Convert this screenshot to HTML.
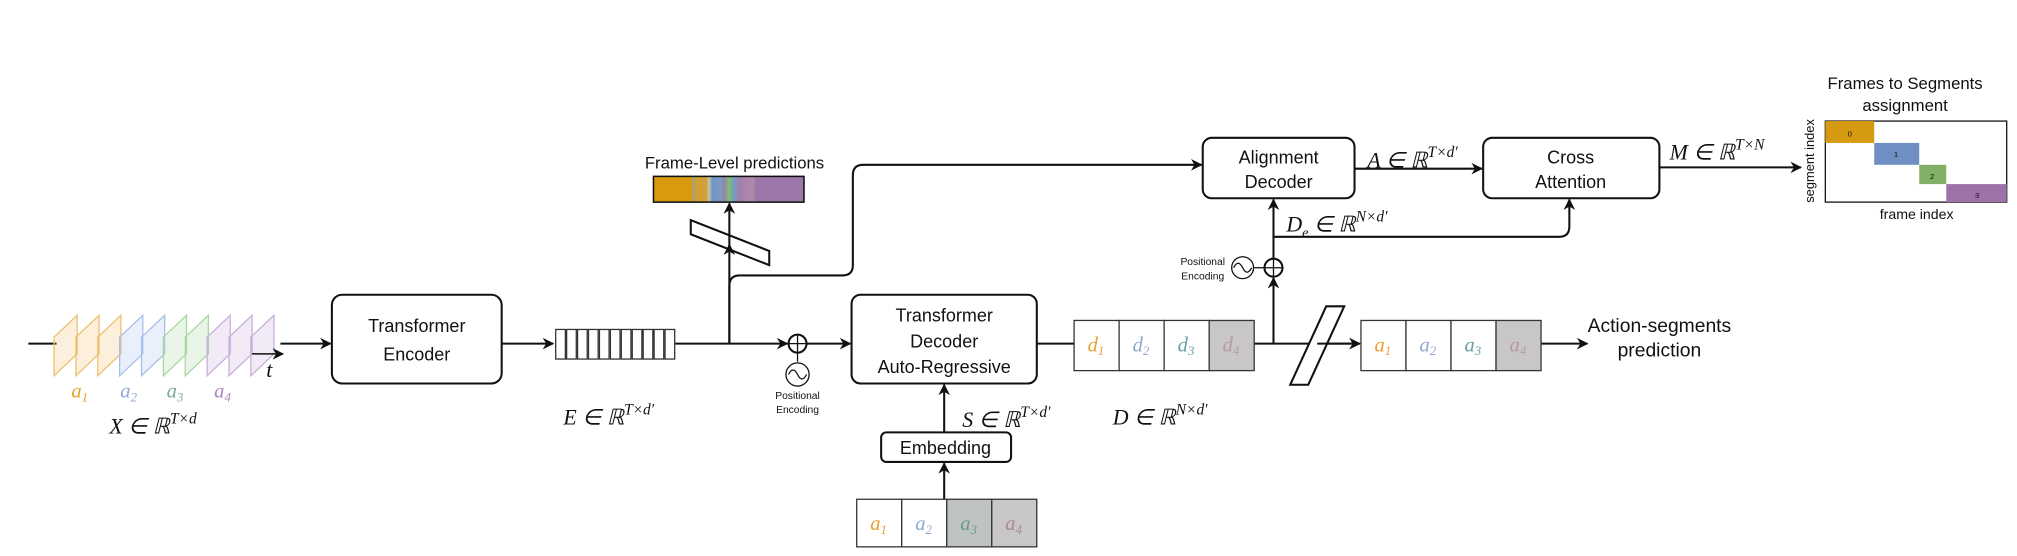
<!DOCTYPE html>
<html><head><meta charset="utf-8"><style>
html,body{margin:0;padding:0;background:#fff;}
svg{display:block}
.s{font-family:"Liberation Sans",sans-serif;fill:#111;}
.m{font-family:"Liberation Serif",serif;font-style:italic;fill:#111;}
</style></head><body>
<svg width="2017" height="556" viewBox="0 0 1568 432" xmlns="http://www.w3.org/2000/svg">
<defs>
<marker id="ar" viewBox="0 0 10 10" refX="9" refY="5" markerWidth="9" markerHeight="9" orient="auto-start-reverse" markerUnits="userSpaceOnUse"><path d="M0,0 L10,5 L0,10 L3,5 z" fill="#111"/></marker>
<linearGradient id="fg" x1="0" x2="1" y1="0" y2="0">
<stop offset="0" stop-color="#d99a10"/><stop offset="0.26" stop-color="#d99a10"/>
<stop offset="0.26" stop-color="#8fa0b8"/><stop offset="0.28" stop-color="#cfa030"/>
<stop offset="0.35" stop-color="#d0a040"/><stop offset="0.37" stop-color="#c8c8a0"/>
<stop offset="0.39" stop-color="#6f96c8"/><stop offset="0.45" stop-color="#7a9ac0"/>
<stop offset="0.47" stop-color="#9a80b0"/><stop offset="0.5" stop-color="#7fbf6a"/>
<stop offset="0.53" stop-color="#70a0c0"/><stop offset="0.57" stop-color="#a080b0"/>
<stop offset="0.66" stop-color="#b08aa8"/><stop offset="0.68" stop-color="#9c78aa"/>
<stop offset="1" stop-color="#9c78aa"/></linearGradient>
</defs>
<g fill="none" stroke="#111" stroke-width="1.6">
<line x1="22" y1="267" x2="44" y2="267"/>
</g>
<g stroke-width="1" fill-opacity="0.25">
<polygon points="42,292 42,262 60,245 60,275" fill="#f5c070" stroke="#eec070"/>
<polygon points="59,292 59,262 77,245 77,275" fill="#f5c070" stroke="#eec070"/>
<polygon points="76,292 76,262 94,245 94,275" fill="#f5c070" stroke="#eec070"/>
<polygon points="93,292 93,262 111,245 111,275" fill="#a8c4ee" stroke="#a8c0e8"/>
<polygon points="110,292 110,262 128,245 128,275" fill="#a8c4ee" stroke="#a8c0e8"/>
<polygon points="127,292 127,262 145,245 145,275" fill="#a8dca0" stroke="#a8d8a0"/>
<polygon points="144,292 144,262 162,245 162,275" fill="#a8dca0" stroke="#a8d8a0"/>
<polygon points="161,292 161,262 179,245 179,275" fill="#cdb0e0" stroke="#c8b0dc"/>
<polygon points="178,292 178,262 196,245 196,275" fill="#cdb0e0" stroke="#c8b0dc"/>
<polygon points="195,292 195,262 213,245 213,275" fill="#cdb0e0" stroke="#c8b0dc"/>
</g>
<g fill="none" stroke="#111" stroke-width="1.6">
<line x1="196" y1="275" x2="220" y2="275" stroke-width="1.2" marker-end="url(#ar)"/>
<line x1="218" y1="267" x2="257" y2="267" marker-end="url(#ar)"/>
<rect x="258" y="229" width="132" height="69" rx="8"/>
<line x1="390" y1="267" x2="430" y2="267" marker-end="url(#ar)"/>
</g>
<g fill="none" stroke="#333" stroke-width="1">
<rect x="432" y="256" width="7.5" height="23"/><rect x="440.5" y="256" width="7.5" height="23"/>
<rect x="449" y="256" width="7.5" height="23"/><rect x="457.5" y="256" width="7.5" height="23"/>
<rect x="466" y="256" width="7.5" height="23"/><rect x="474.5" y="256" width="7.5" height="23"/>
<rect x="483" y="256" width="7.5" height="23"/><rect x="491.5" y="256" width="7.5" height="23"/>
<rect x="500" y="256" width="7.5" height="23"/><rect x="508.5" y="256" width="7.5" height="23"/>
<rect x="517" y="256" width="7.5" height="23"/>
</g>
<g fill="none" stroke="#111" stroke-width="1.6">
<line x1="525" y1="267" x2="612" y2="267" marker-end="url(#ar)"/>
<circle cx="620" cy="267" r="7"/><line x1="613" y1="267" x2="627" y2="267" stroke-width="1"/><line x1="620" y1="260" x2="620" y2="274" stroke-width="1"/>
<line x1="620" y1="274" x2="620" y2="281" stroke-width="1"/>
<circle cx="620" cy="291" r="9" stroke-width="1"/>
<path d="M613,291 q3.5,-7 7,0 t7,0" stroke-width="1"/>
<line x1="627" y1="267" x2="661" y2="267" marker-end="url(#ar)"/>
<polygon points="537,171 537,182 598,206 598,195" fill="#fff"/>
<line x1="567" y1="267" x2="567" y2="190" marker-end="url(#ar)"/>
<line x1="567" y1="190" x2="567" y2="158" marker-end="url(#ar)"/>
<path d="M567,267 V222 q0,-8 8,-8 H655 q8,0 8,-8 V136 q0,-8 8,-8 H934" marker-end="url(#ar)"/>
<rect x="508" y="137" width="117" height="20" fill="url(#fg)" stroke-width="1.2"/>
<rect x="935" y="107" width="118" height="47" rx="7"/>
<line x1="1053" y1="131" x2="1152" y2="131" marker-end="url(#ar)"/>
<rect x="1153" y="107" width="137" height="47" rx="7"/>
<line x1="1290" y1="130" x2="1400" y2="130" marker-end="url(#ar)"/>
<rect x="662" y="229" width="144" height="69" rx="7"/>
<line x1="806" y1="267" x2="835" y2="267"/>
<line x1="975" y1="267" x2="1057" y2="267" marker-end="url(#ar)"/>
<line x1="990" y1="267" x2="990" y2="216" marker-end="url(#ar)"/>
<circle cx="990" cy="208" r="7"/><line x1="983" y1="208" x2="997" y2="208" stroke-width="1"/><line x1="990" y1="201" x2="990" y2="215" stroke-width="1"/>
<line x1="975" y1="208" x2="983" y2="208" stroke-width="1"/>
<circle cx="966" cy="208" r="8.5" stroke-width="1"/>
<path d="M959,208 q3.5,-7 7,0 t7,0" stroke-width="1"/>
<line x1="990" y1="201" x2="990" y2="155" marker-end="url(#ar)"/>
<path d="M990,184 H1212 q8,0 8,-8 V155" marker-end="url(#ar)"/>
<polygon points="1003,299 1017,299 1045,238 1031,238" fill="#fff"/>
<line x1="1024" y1="267" x2="1057" y2="267" marker-end="url(#ar)"/>
<line x1="1198" y1="267" x2="1234" y2="267" marker-end="url(#ar)"/>
<line x1="734" y1="336" x2="734" y2="299" marker-end="url(#ar)"/>
<rect x="685" y="336" width="101" height="23" rx="4"/>
<line x1="734" y1="388" x2="734" y2="360" marker-end="url(#ar)"/>
</g>
<g stroke="#333" stroke-width="1">
<rect x="835" y="249" width="35" height="39" fill="#fff"/><rect x="870" y="249" width="35" height="39" fill="#fff"/>
<rect x="905" y="249" width="35" height="39" fill="#fff"/><rect x="940" y="249" width="35" height="39" fill="#c9c6c6"/>
<rect x="1058" y="249" width="35" height="39" fill="#fff"/><rect x="1093" y="249" width="35" height="39" fill="#fff"/>
<rect x="1128" y="249" width="35" height="39" fill="#fff"/><rect x="1163" y="249" width="35" height="39" fill="#c9c6c6"/>
<rect x="666" y="388" width="35" height="37" fill="#fff"/><rect x="701" y="388" width="35" height="37" fill="#fff"/>
<rect x="736" y="388" width="35" height="37" fill="#c0c4c0"/><rect x="771" y="388" width="35" height="37" fill="#c9c6c6"/>
</g>
<rect x="1419" y="94" width="141" height="63" fill="#fff" stroke="#111" stroke-width="1"/>
<rect x="1419" y="94" width="38" height="17" fill="#d59a12"/>
<rect x="1457" y="111" width="35" height="17" fill="#6f8ec4"/>
<rect x="1492" y="128" width="21" height="15" fill="#82b066"/>
<rect x="1513" y="143" width="47" height="14" fill="#9d72a8"/>
<g class="s" font-size="6" text-anchor="middle"><text x="1438" y="106">0</text><text x="1474" y="122">1</text><text x="1502" y="139">2</text><text x="1537" y="154">3</text></g>
<g class="s" text-anchor="middle" font-size="14">
<text x="324" y="258">Transformer</text><text x="324" y="280">Encoder</text>
<text x="734" y="250">Transformer</text><text x="734" y="270">Decoder</text><text x="734" y="290">Auto-Regressive</text>
<text x="994" y="127">Alignment</text><text x="994" y="146">Decoder</text>
<text x="1221" y="127">Cross</text><text x="1221" y="146">Attention</text>
<text x="735" y="353">Embedding</text>
<text x="571" y="131" font-size="13">Frame-Level predictions</text>
<text x="1290" y="258" font-size="15">Action-segments</text><text x="1290" y="277" font-size="15">prediction</text>
<text x="1481" y="69" font-size="13">Frames to Segments</text><text x="1481" y="86" font-size="13">assignment</text>
<text x="1490" y="170" font-size="11">frame index</text>
<text transform="translate(1410,125) rotate(-90)" font-size="10">segment index</text>
<text x="620" y="310" font-size="8">Positional</text><text x="620" y="321" font-size="8">Encoding</text>
<text x="935" y="206" font-size="8">Positional</text><text x="935" y="217" font-size="8">Encoding</text>
</g>
<g class="m" font-size="17">
<text x="85" y="337">X ∈ ℝ<tspan font-size="12" dy="-8">T×d</tspan></text>
<text x="438" y="330">E ∈ ℝ<tspan font-size="12" dy="-8">T×d′</tspan></text>
<text x="748" y="332">S ∈ ℝ<tspan font-size="12" dy="-8">T×d′</tspan></text>
<text x="865" y="330">D ∈ ℝ<tspan font-size="12" dy="-8">N×d′</tspan></text>
<text x="1000" y="180">D<tspan font-size="11" dy="4">e</tspan><tspan dy="-4"> ∈ ℝ</tspan><tspan font-size="12" dy="-8">N×d′</tspan></text>
<text x="1063" y="130">A ∈ ℝ<tspan font-size="12" dy="-8">T×d′</tspan></text>
<text x="1298" y="124">M ∈ ℝ<tspan font-size="12" dy="-8">T×N</tspan></text>
<text x="207" y="293">t</text>
</g>
<g class="m" font-size="16" text-anchor="middle">
<text x="62" y="309" fill="#e8a030">a<tspan font-size="10" dy="3">1</tspan></text>
<text x="100" y="309" fill="#8fa8d0">a<tspan font-size="10" dy="3">2</tspan></text>
<text x="136" y="309" fill="#7aaa9a">a<tspan font-size="10" dy="3">3</tspan></text>
<text x="173" y="309" fill="#a888b8">a<tspan font-size="10" dy="3">4</tspan></text>
<text x="852" y="273" fill="#e8a030">d<tspan font-size="10" dy="3">1</tspan></text>
<text x="887" y="273" fill="#8fa8d0">d<tspan font-size="10" dy="3">2</tspan></text>
<text x="922" y="273" fill="#6aa0a0">d<tspan font-size="10" dy="3">3</tspan></text>
<text x="957" y="273" fill="#b898a8">d<tspan font-size="10" dy="3">4</tspan></text>
<text x="1075" y="273" fill="#e8a030">a<tspan font-size="10" dy="3">1</tspan></text>
<text x="1110" y="273" fill="#8fa8d0">a<tspan font-size="10" dy="3">2</tspan></text>
<text x="1145" y="273" fill="#6aa0a0">a<tspan font-size="10" dy="3">3</tspan></text>
<text x="1180" y="273" fill="#b898a8">a<tspan font-size="10" dy="3">4</tspan></text>
<text x="683" y="412" fill="#e8a030">a<tspan font-size="10" dy="3">1</tspan></text>
<text x="718" y="412" fill="#8fa8d0">a<tspan font-size="10" dy="3">2</tspan></text>
<text x="753" y="412" fill="#6a9a90">a<tspan font-size="10" dy="3">3</tspan></text>
<text x="788" y="412" fill="#a888a0">a<tspan font-size="10" dy="3">4</tspan></text>
</g>
</svg>
</body></html>
